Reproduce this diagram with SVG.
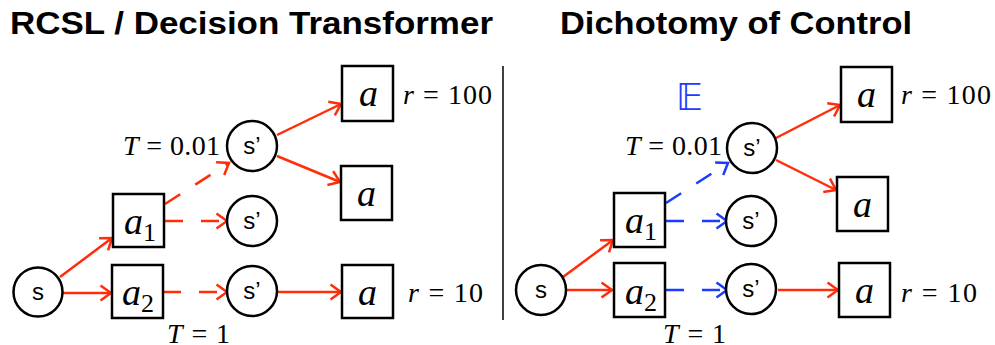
<svg xmlns="http://www.w3.org/2000/svg" width="995" height="345" viewBox="0 0 995 345">
<style>
.title{font-family:"Liberation Sans",Arial,sans-serif;font-weight:bold;font-size:31px;fill:#000}
.node{fill:#fff;stroke:#000;stroke-width:2.5}
.st{font-family:"Liberation Sans",Arial,sans-serif;font-size:24px;fill:#000;text-anchor:middle}
.act{font-family:"Liberation Serif","Times New Roman",serif;font-style:italic;font-size:38px;fill:#000}
.sub{font-family:"Liberation Serif","Times New Roman",serif;font-style:normal;font-size:26px}
.math{font-family:"Liberation Serif","Times New Roman",serif;font-size:28px;fill:#000}
.red{stroke:#ff2d0a;stroke-width:2.5;fill:none;marker-end:url(#ar)}
.blue{stroke:#1a3cff;stroke-width:2.5;fill:none;marker-end:url(#ab)}
.dash{stroke-dasharray:18 18}
</style>
<defs>
<marker id="ar" markerUnits="userSpaceOnUse" markerWidth="16" markerHeight="18" refX="12" refY="9" orient="auto">
<path d="M1.5,1.5 L12,9 L1.5,16.5" fill="none" stroke="#ff2d0a" stroke-width="2.5"/>
</marker>
<marker id="ab" markerUnits="userSpaceOnUse" markerWidth="16" markerHeight="18" refX="12" refY="9" orient="auto">
<path d="M1.5,1.5 L12,9 L1.5,16.5" fill="none" stroke="#1a3cff" stroke-width="2.5"/>
</marker>
</defs>

<text class="title" x="10" y="34" textLength="483" lengthAdjust="spacingAndGlyphs">RCSL / Decision Transformer</text>
<text class="title" x="560" y="34" textLength="352" lengthAdjust="spacingAndGlyphs">Dichotomy of Control</text>
<line x1="503" y1="66" x2="503" y2="320" stroke="#000" stroke-width="1.5"/>

<g id="connectors">
<!-- left -->
<line class="red" x1="60" y1="277" x2="112" y2="238"/>
<line class="red" x1="63" y1="293" x2="111" y2="293"/>
<line class="red dash" x1="165" y1="204" x2="229" y2="163"/>
<line class="red dash" x1="165" y1="221" x2="227" y2="221"/>
<line class="red dash" x1="163" y1="292" x2="227" y2="292"/>
<line class="red" x1="277" y1="135" x2="341" y2="104"/>
<line class="red" x1="277" y1="156" x2="340" y2="182"/>
<line class="red" x1="278" y1="292" x2="341" y2="292"/>
<!-- right -->
<line class="red" x1="563" y1="277" x2="613" y2="240"/>
<line class="red" x1="566" y1="290" x2="612" y2="290"/>
<line class="blue dash" x1="666" y1="203" x2="728" y2="163"/>
<line class="blue dash" x1="666" y1="221" x2="727" y2="221"/>
<line class="blue dash" x1="666" y1="290" x2="727" y2="290"/>
<line class="red" x1="776" y1="138" x2="840" y2="105"/>
<line class="red" x1="776" y1="160" x2="836" y2="190"/>
<line class="red" x1="778" y1="290" x2="838" y2="290"/>
</g>

<!-- left panel nodes -->
<g id="L_s"><circle class="node" cx="38" cy="292" r="24.5"/><text class="st" x="38" y="300">s</text></g>
<g id="L_a1"><rect class="node" x="113" y="194" width="51" height="53"/><text class="act" x="124" y="234">a<tspan class="sub" dy="7">1</tspan></text></g>
<g id="L_a2"><rect class="node" x="112" y="265" width="51" height="53"/><text class="act" x="122" y="305">a<tspan class="sub" dy="7">2</tspan></text></g>
<g id="L_sp1"><circle class="node" cx="252" cy="146" r="25"/><text class="st" x="252" y="154">s’</text></g>
<g id="L_sp2"><circle class="node" cx="252" cy="221" r="25"/><text class="st" x="252" y="229">s’</text></g>
<g id="L_sp3"><circle class="node" cx="252" cy="291" r="25"/><text class="st" x="252" y="299">s’</text></g>
<g id="L_at"><rect class="node" x="342" y="66" width="51" height="55"/><text class="act" x="359" y="106">a</text></g>
<g id="L_am"><rect class="node" x="341" y="166" width="51" height="54"/><text class="act" x="357" y="206">a</text></g>
<g id="L_ab"><rect class="node" x="342" y="265" width="51" height="53"/><text class="act" x="358" y="305">a</text></g>
<text class="math" x="123" y="155" textLength="97"><tspan font-style="italic">T</tspan> = 0.01</text>
<text class="math" x="167" y="343" textLength="63"><tspan font-style="italic">T</tspan> = 1</text>
<text class="math" x="403" y="104" textLength="89"><tspan font-style="italic">r</tspan> = 100</text>
<text class="math" x="408" y="302" textLength="75"><tspan font-style="italic">r</tspan> = 10</text>

<!-- right panel nodes -->
<g id="R_s"><circle class="node" cx="541" cy="290" r="25"/><text class="st" x="541" y="298">s</text></g>
<g id="R_a1"><rect class="node" x="614" y="193" width="51" height="54"/><text class="act" x="625" y="233">a<tspan class="sub" dy="7">1</tspan></text></g>
<g id="R_a2"><rect class="node" x="614" y="263" width="51" height="54"/><text class="act" x="625" y="304">a<tspan class="sub" dy="7">2</tspan></text></g>
<g id="R_sp1"><circle class="node" cx="752" cy="148" r="25"/><text class="st" x="752" y="156">s’</text></g>
<g id="R_sp2"><circle class="node" cx="751" cy="221" r="25"/><text class="st" x="751" y="229">s’</text></g>
<g id="R_sp3"><circle class="node" cx="751" cy="289" r="25"/><text class="st" x="751" y="297">s’</text></g>
<g id="R_at"><rect class="node" x="841" y="67" width="51" height="55"/><text class="act" x="857" y="107">a</text></g>
<g id="R_am"><rect class="node" x="837" y="177" width="51" height="54"/><text class="act" x="853" y="217">a</text></g>
<g id="R_ab"><rect class="node" x="839" y="263" width="51" height="54"/><text class="act" x="855" y="303">a</text></g>
<text x="676" y="110" font-family="DejaVu Sans, sans-serif" font-size="37" fill="#1a3cff">𝔼</text>
<text class="math" x="625" y="155" textLength="97"><tspan font-style="italic">T</tspan> = 0.01</text>
<text class="math" x="663" y="343" textLength="63"><tspan font-style="italic">T</tspan> = 1</text>
<text class="math" x="901" y="104" textLength="90"><tspan font-style="italic">r</tspan> = 100</text>
<text class="math" x="901" y="302" textLength="76"><tspan font-style="italic">r</tspan> = 10</text>
</svg>
